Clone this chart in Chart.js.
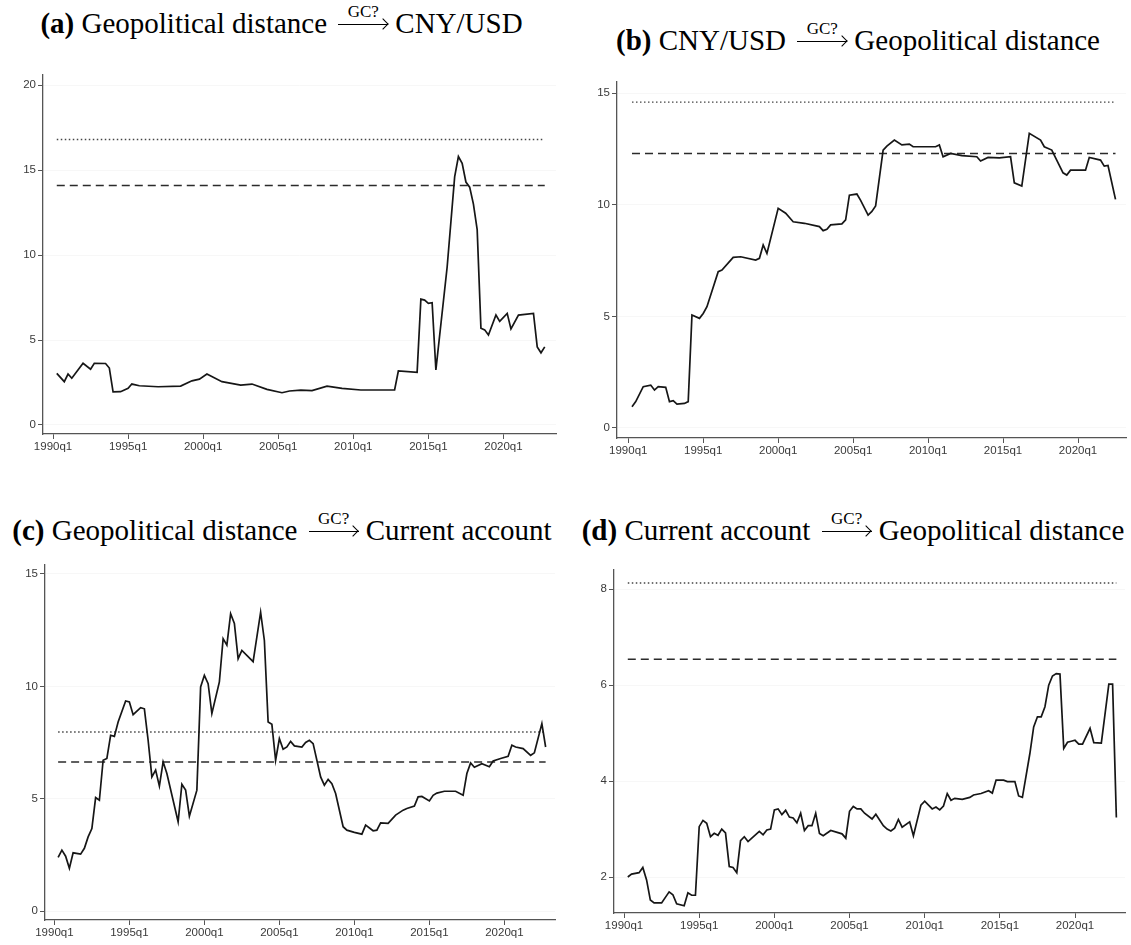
<!DOCTYPE html>
<html>
<head>
<meta charset="utf-8">
<script src="https://cdn.jsdelivr.net/npm/chart.js@4.4.1/dist/chart.umd.min.js"></script>
<style>
  body { margin: 0; background: #fff; width: 1131px; height: 945px; position: relative; overflow: hidden; }
  .ttl {
    position: absolute; text-align: center; white-space: nowrap;
    font-family: "Liberation Serif", "Times New Roman", serif; font-size: 29px; line-height: 29px; color: #000;
  }
  /* "GC?" over a long right arrow */
  .gc { display: inline-block; position: relative; width: 50px; height: 1em; margin: 0 7px 0 4px; }
  .gc-lab {
    position: absolute; left: 0; right: 0; bottom: 13px; text-align: center;
    font-size: 17px; line-height: 17px;
  }
  .arr { position: absolute; left: 0; right: 0; bottom: 8px; height: 1.2px; background: #000; }
  .arr::after {
    content: ""; position: absolute; right: 1.2px; top: -3.4px; width: 8px; height: 8px; box-sizing: border-box;
    border-top: 1.3px solid #000; border-right: 1.3px solid #000; transform: rotate(45deg);
  }
  .panel { position: absolute; }
</style>
</head>
<body>

<div class="ttl" style="left:0;top:4px;width:563px;"><b>(a)</b> Geopolitical distance <span class="gc"><span class="gc-lab">GC?</span><span class="arr"></span></span>CNY/USD</div>
<div class="ttl" style="left:575px;top:21px;width:566px;"><b>(b)</b> CNY/USD <span class="gc"><span class="gc-lab">GC?</span><span class="arr"></span></span>Geopolitical distance</div>
<div class="ttl" style="left:0;top:511px;width:564px;"><b>(c)</b> Geopolitical distance <span class="gc"><span class="gc-lab">GC?</span><span class="arr"></span></span>Current account</div>
<div class="ttl" style="left:565px;top:511px;width:576px;"><b>(d)</b> Current account <span class="gc"><span class="gc-lab">GC?</span><span class="arr"></span></span>Geopolitical distance</div>

<div class="panel" style="left:0;top:60px;"><canvas id="chartA" width="570" height="400"></canvas></div>
<div class="panel" style="left:574px;top:66px;"><canvas id="chartB" width="557" height="398"></canvas></div>
<div class="panel" style="left:0;top:550px;"><canvas id="chartC" width="570" height="395"></canvas></div>
<div class="panel" style="left:574px;top:555px;"><canvas id="chartD" width="557" height="390"></canvas></div>

<script>
// quarters are counted from 1990q1 (= 0)
const tickQuarters = [0, 20, 40, 60, 80, 100, 120];

// (a) Geopolitical distance -> CNY/USD
const aQuarter = [1,3,4,5,8,10,11,14,15,16, 18,20,21,23,28,34,37,39,41,45, 50,53,57,61,63,66,69,73,77,82,
  91,92,97,98,99,100,101,102,105,107, 108,109,110,111,112,113,114,115,116,118, 119,121,122,124,128,129,130,131];
const aValue = [3.04,2.55,3.0,2.75,3.63,3.28,3.63,3.62,3.35,1.95, 1.96,2.16,2.41,2.31,2.25,2.29,2.6,2.7,3.0,2.55,
  2.35,2.41,2.1,1.9,2.0,2.05,2.02,2.29,2.16,2.06, 2.06,3.18,3.1,7.41,7.35,7.16,7.2,3.24,9.3,14.6,
  15.8,15.4,14.3,14.0,13.0,11.5,5.7,5.6,5.3,6.47, 6.1,6.57,5.65,6.47,6.57,4.6,4.25,4.6];
const aDotted = 16.8, aDashed = 14.1;
const aTicks = [0, 5, 10, 15, 20];

// (b) CNY/USD -> Geopolitical distance
const bQuarter = [1,2,4,6,7,8,10,11,12,13, 15,16,17,19,20,21,24,25,28,30, 34,35,36,37,40,42,44,47,51,52,
  53,54,57,58,59,61,62,64,65,66, 68,69,71,73,75,76,82,83,84,86, 89,93,94,96,99,102,103,105,107,110,
  111,113,116,117,118,122,123,126,127,128, 130];
const bValue = [0.95,1.18,1.85,1.92,1.70,1.85,1.82,1.18,1.22,1.07, 1.1,1.18,5.06,4.91,5.13,5.43,7.0,7.07,7.64,7.67,
  7.52,7.6,8.2,7.82,9.84,9.62,9.24,9.17,9.02,8.84, 8.9,9.1,9.14,9.32,10.43,10.48,10.2,9.54,9.7,9.95,
  12.45,12.63,12.9,12.68,12.72,12.6,12.6,12.68,12.15,12.3, 12.2,12.15,11.96,12.12,12.1,12.15,10.98,10.84,13.2,12.9,
  12.6,12.45,11.43,11.33,11.55,11.55,12.12,12.0,11.73,11.76, 10.24];
const bDotted = 14.6, bDashed = 12.3;
const bTicks = [0, 5, 10, 15];

// (c) Geopolitical distance -> Current account
const cQuarter = [1,2,3,4,5,7,8,9,10,11, 12,13,14,15,16,17,19,20,21,23, 24,25,26,27,28,29,30,33,34,35,
  36,38,39,40,41,42,44,45,46,47, 48,49,50,53,55,56,57,58,59,60, 61,62,63,64,66,67,68,69,70,71,
  72,73,74,75,77,78,80,82,83,85, 86,87,89,91,93,94,96,97,98,100, 101,102,104,107,109,110,111,112,114,116,
  117,119,121,122,123,125,127,128,130,131];
const cValue = [2.39,2.71,2.44,1.9,2.59,2.53,2.79,3.3,3.67,5.05, 4.93,6.71,6.79,7.82,7.77,8.41,9.35,9.3,8.74,9.05,
  9.0,7.6,5.97,6.27,5.56,6.64,6.12,3.97,5.64,5.38, 4.22,5.38,9.97,10.49,10.12,8.79,10.2,12.12,11.83,13.23,
  12.8,11.23,11.6,11.1,13.3,12.04,8.41,8.31,6.71,7.67, 7.2,7.3,7.55,7.35,7.3,7.5,7.6,7.45,6.71,5.97,
  5.6,5.86,5.67,5.23,3.75,3.6,3.5,3.42,3.82,3.57, 3.6,3.92,3.9,4.27,4.49,4.56,4.67,5.08,5.1,4.9,
  5.15,5.25,5.33,5.33,5.15,6.12,6.59,6.4,6.56,6.42, 6.68,6.79,6.89,7.38,7.3,7.23,6.93,7.04,8.34,7.3];
const cDotted = 7.97, cDashed = 6.63;
const cTicks = [0, 5, 10, 15];

// (d) Current account -> Geopolitical distance
const dQuarter = [1,2,4,5,6,7,8,10,12,13, 14,16,17,18,19,20,21,22,23,24, 25,26,27,28,29,30,31,32,33,34,
  36,37,38,39,40,41,42,43,44,45, 46,47,48,49,50,51,52,53,55,58, 59,60,61,62,63,64,66,67,69,70,
  71,72,73,74,76,77,79,80,82,83, 84,85,86,87,88,90,92,93,95,97, 98,99,101,102,104,105,106,108,109,110,
  111,112,113,114,115,116,117,118,119,120, 121,122,124,125,127,129,130,131];
const dValue = [2.0,2.06,2.09,2.2,1.94,1.52,1.46,1.46,1.69,1.63, 1.44,1.4,1.67,1.62,1.62,3.05,3.18,3.12,2.84,2.91,
  2.87,3.0,2.92,2.22,2.2,2.09,2.76,2.84,2.74,2.81, 2.95,2.88,2.98,3.0,3.4,3.42,3.3,3.39,3.25,3.23,
  3.13,3.33,2.97,3.07,3.07,3.33,2.91,2.86,2.97,2.9, 2.81,3.37,3.47,3.42,3.42,3.33,3.21,3.31,3.07,3.0,
  2.96,3.02,3.2,3.04,3.15,2.86,3.5,3.58,3.42,3.46, 3.4,3.48,3.74,3.6,3.64,3.62,3.66,3.71,3.74,3.8,
  3.75,4.02,4.02,3.99,3.99,3.69,3.66,4.58,5.13,5.34, 5.34,5.55,6.0,6.19,6.24,6.23,4.68,4.81,4.83,4.85,
  4.77,4.77,5.1,4.8,4.79,6.02,6.02,3.24];
const dDotted = 8.13, dDashed = 6.54;
const dTicks = [2, 4, 6, 8];

const quarterLabel = q => `${1990 + Math.floor(q / 4)}q${(q % 4) + 1}`;

const tickFont = { family: "'Liberation Sans', Arial, sans-serif", size: 11.5 };
const axisColor = "#555";

// frame: axis ranges + where the plot area sits inside the canvas (px)
function drawPanel(id, quarters, values, dotted, dashed, yTicks, frame) {
  const first = quarters[0], last = quarters[quarters.length - 1];
  const series = quarters.map((q, i) => ({ x: q, y: values[i] }));
  const hline = v => [{ x: first, y: v }, { x: last, y: v }];

  new Chart(document.getElementById(id), {
    type: "line",
    data: {
      datasets: [
        { data: series, borderColor: "#161616", borderWidth: 1.7 },
        { data: hline(dashed), borderColor: "#2b2b2b", borderWidth: 1.5, borderDash: [8, 5] },
        { data: hline(dotted), borderColor: "#444", borderWidth: 1.4, borderDash: [1.5, 2.5] }
      ]
    },
    options: {
      responsive: false,
      animation: false,
      devicePixelRatio: 1,
      layout: { padding: { top: frame.padTop, right: frame.padRight, bottom: 0, left: 0 } },
      elements: { point: { radius: 0 }, line: { tension: 0 } },
      plugins: { legend: { display: false }, tooltip: { enabled: false } },
      scales: {
        x: {
          type: "linear",
          min: frame.xMin, max: frame.xMax,
          afterFit: s => { s.height = frame.xHeight; },
          afterBuildTicks: s => { s.ticks = tickQuarters.map(v => ({ value: v })); },
          ticks: { callback: v => quarterLabel(v), color: "#3a3a3a", font: tickFont, padding: 1, maxRotation: 0, autoSkip: false },
          grid: { drawOnChartArea: false, tickLength: 5, tickColor: axisColor, tickWidth: 1 },
          border: { display: true, color: axisColor, width: 1.3 }
        },
        y: {
          type: "linear",
          min: frame.yMin, max: frame.yMax,
          afterFit: s => { s.width = frame.yWidth; },
          afterBuildTicks: s => { s.ticks = yTicks.map(v => ({ value: v })); },
          ticks: { color: "#3a3a3a", font: tickFont, padding: 2 },
          grid: { color: "rgba(0,0,0,0.03)", tickLength: 5, tickColor: axisColor, tickWidth: 1 },
          border: { display: true, color: axisColor, width: 1.3 }
        }
      }
    }
  });
}

drawPanel("chartA", aQuarter, aValue, aDotted, aDashed, aTicks,
  { xMin: -2.67, xMax: 134, yMin: -0.53, yMax: 20.6, yWidth: 43, xHeight: 26, padTop: 15, padRight: 14 });
drawPanel("chartB", bQuarter, bValue, bDotted, bDashed, bTicks,
  { xMin: -3.0, xMax: 132.8, yMin: -0.45, yMax: 15.5, yWidth: 43, xHeight: 26, padTop: 16, padRight: 5 });
drawPanel("chartC", cQuarter, cValue, cDotted, cDashed, cTicks,
  { xMin: -2.5, xMax: 133.5, yMin: -0.4, yMax: 15.4, yWidth: 45, xHeight: 25, padTop: 15, padRight: 15 });
drawPanel("chartD", dQuarter, dValue, dDotted, dDashed, dTicks,
  { xMin: -2.67, xMax: 133.3, yMin: 1.25, yMax: 8.4, yWidth: 40, xHeight: 32, padTop: 15, padRight: 6 });
</script>
</body>
</html>
